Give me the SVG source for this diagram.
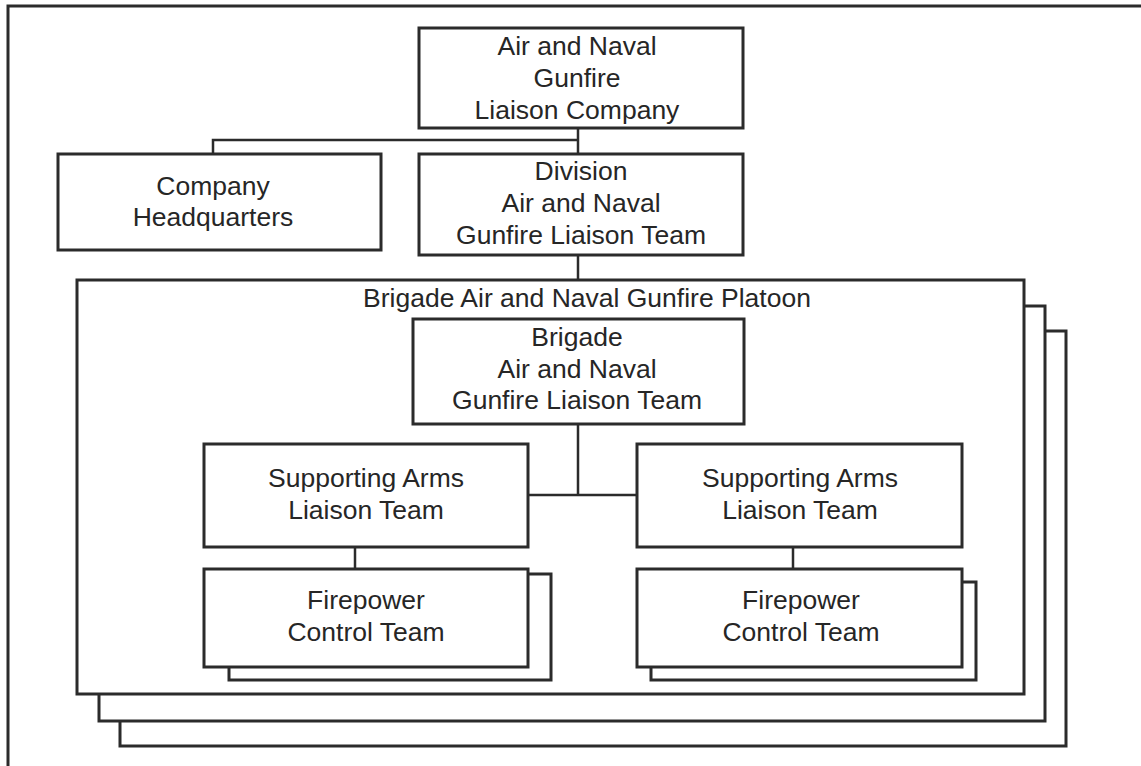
<svg xmlns="http://www.w3.org/2000/svg" width="1141" height="766" viewBox="0 0 1141 766">
  <style>
    .box { fill: #ffffff; stroke: #2b2b2b; stroke-width: 3; }
    .link { fill: none; stroke: #2b2b2b; stroke-width: 2.5; }
    .lbl { font-family: "Liberation Sans", Arial, sans-serif; font-size: 26.5px; fill: #262626; text-anchor: middle; }
  </style>
  <rect width="1141" height="766" fill="#ffffff"/>
  <!-- outer frame, runs off the right and bottom edges -->
  <rect x="8" y="6" width="1200" height="800" fill="none" stroke="#2b2b2b" stroke-width="3"/>

  <!-- platoon container, stacked three deep -->
  <g id="brigade-platoon">
    <rect class="box" x="120" y="331" width="946" height="415"/>
    <rect class="box" x="99" y="306" width="946" height="415"/>
    <rect class="box" x="77" y="280" width="947" height="414"/>
    <text class="lbl" x="587" y="307">Brigade Air and Naval Gunfire Platoon</text>
  </g>

  <g id="connectors">
    <path class="link" d="M578,128 V154 M213,154 V140 H578"/>
    <path class="link" d="M578,255 V280"/>
    <path class="link" d="M578,424 V495 M528,495 H637"/>
    <path class="link" d="M355,547 V569"/>
    <path class="link" d="M793,547 V569"/>
  </g>

  <g id="company">
    <rect class="box" x="419" y="28" width="324" height="100"/>
    <text class="lbl" x="577" y="55">Air and Naval</text>
    <text class="lbl" x="577" y="87">Gunfire</text>
    <text class="lbl" x="577" y="119">Liaison Company</text>
  </g>

  <g id="company-hq">
    <rect class="box" x="58" y="154" width="323" height="96"/>
    <text class="lbl" x="213" y="195">Company</text>
    <text class="lbl" x="213" y="226">Headquarters</text>
  </g>

  <g id="division-team">
    <rect class="box" x="419" y="154" width="324" height="101"/>
    <text class="lbl" x="581" y="180">Division</text>
    <text class="lbl" x="581" y="212">Air and Naval</text>
    <text class="lbl" x="581" y="244">Gunfire Liaison Team</text>
  </g>

  <g id="brigade-team">
    <rect class="box" x="413" y="319" width="331" height="105"/>
    <text class="lbl" x="577" y="346">Brigade</text>
    <text class="lbl" x="577" y="378">Air and Naval</text>
    <text class="lbl" x="577" y="409">Gunfire Liaison Team</text>
  </g>

  <g id="salt-left">
    <rect class="box" x="204" y="444" width="324" height="103"/>
    <text class="lbl" x="366" y="487">Supporting Arms</text>
    <text class="lbl" x="366" y="519">Liaison Team</text>
  </g>

  <g id="salt-right">
    <rect class="box" x="637" y="444" width="325" height="103"/>
    <text class="lbl" x="800" y="487">Supporting Arms</text>
    <text class="lbl" x="800" y="519">Liaison Team</text>
  </g>

  <g id="fct-left">
    <rect class="box" x="229" y="574" width="322" height="106"/>
    <rect class="box" x="204" y="569" width="324" height="98"/>
    <text class="lbl" x="366" y="609">Firepower</text>
    <text class="lbl" x="366" y="641">Control Team</text>
  </g>

  <g id="fct-right">
    <rect class="box" x="651" y="582" width="325" height="98"/>
    <rect class="box" x="637" y="569" width="325" height="98"/>
    <text class="lbl" x="801" y="609">Firepower</text>
    <text class="lbl" x="801" y="641">Control Team</text>
  </g>
</svg>
